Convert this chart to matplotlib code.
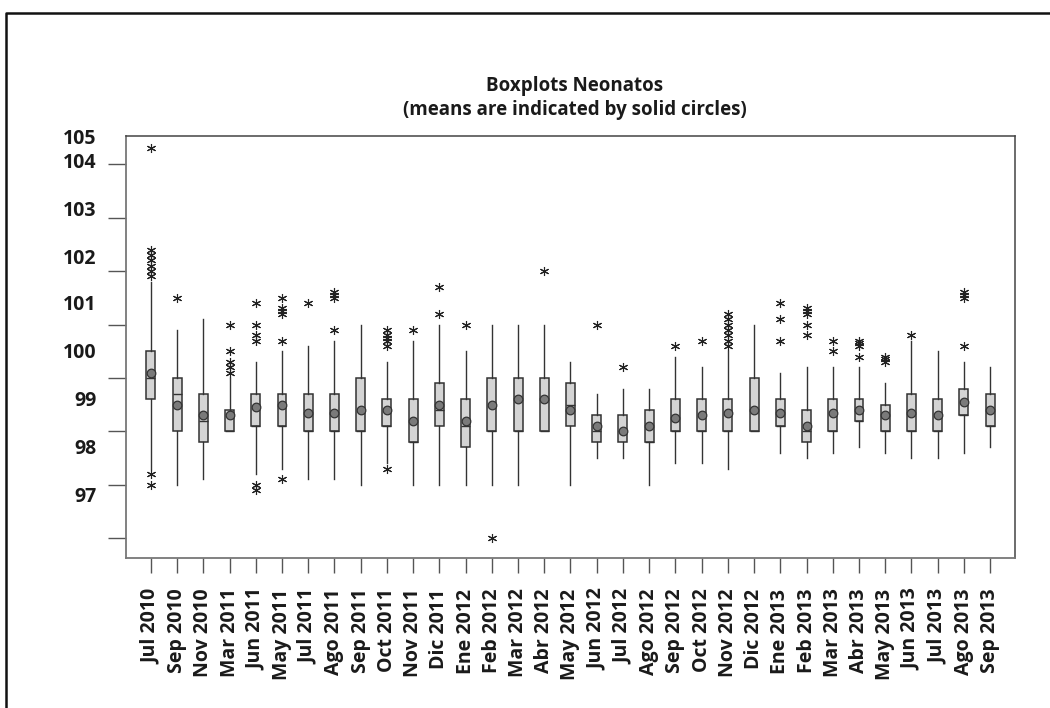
import matplotlib
matplotlib.use("Agg")
import matplotlib.pyplot as plt
from matplotlib.lines import Line2D

# ---------------- data ----------------
MONTHS = ["Jul 2010", "Sep 2010", "Nov 2010", "Mar 2011", "Jun 2011", "May 2011",
          "Jul 2011", "Ago 2011", "Sep 2011", "Oct 2011", "Nov 2011", "Dic 2011",
          "Ene 2012", "Feb 2012", "Mar 2012", "Abr 2012", "May 2012", "Jun 2012",
          "Jul 2012", "Ago 2012", "Sep 2012", "Oct 2012", "Nov 2012", "Dic 2012",
          "Ene 2013", "Feb 2013", "Mar 2013", "Abr 2013", "May 2013", "Jun 2013",
          "Jul 2013", "Ago 2013", "Sep 2013"]

WHIS_LO = [97.3, 97.0, 97.1, 98.0, 97.2, 97.3, 97.1, 97.1, 97.0, 97.4, 97.0, 97.0,
           97.0, 97.0, 97.0, 98.0, 97.0, 97.5, 97.5, 97.0, 97.4, 97.4, 97.3, 98.0,
           97.6, 97.5, 97.6, 97.7, 97.6, 97.5, 97.5, 97.6, 97.7]
Q1 = [98.6, 98.0, 97.8, 98.0, 98.1, 98.1, 98.0, 98.0, 98.0, 98.1, 97.8, 98.1,
      97.7, 98.0, 98.0, 98.0, 98.1, 97.8, 97.8, 97.8, 98.0, 98.0, 98.0, 98.0,
      98.1, 97.8, 98.0, 98.2, 98.0, 98.0, 98.0, 98.3, 98.1]
MEDIAN = [99.0, 98.7, 98.2, 98.0, 98.1, 98.1, 98.0, 98.0, 98.0, 98.1, 97.8, 98.4,
          98.1, 98.0, 98.0, 98.0, 98.5, 98.0, 98.0, 97.8, 98.0, 98.0, 98.0, 98.0,
          98.1, 98.0, 98.0, 98.2, 98.0, 98.0, 98.0, 98.3, 98.1]
Q3 = [99.5, 99.0, 98.7, 98.4, 98.7, 98.7, 98.7, 98.7, 99.0, 98.6, 98.6, 98.9,
      98.6, 99.0, 99.0, 99.0, 98.9, 98.3, 98.3, 98.4, 98.6, 98.6, 98.6, 99.0,
      98.6, 98.4, 98.6, 98.6, 98.5, 98.7, 98.6, 98.8, 98.7]
WHIS_HI = [100.8, 99.9, 100.1, 99.0, 99.3, 99.5, 99.6, 99.7, 100.0, 99.3, 99.7, 100.0,
           99.5, 100.0, 100.0, 100.0, 99.3, 98.7, 98.8, 98.8, 99.4, 99.2, 99.5, 100.0,
           99.1, 99.2, 99.2, 99.2, 98.9, 99.7, 99.5, 99.3, 99.2]
MEAN = [99.1, 98.5, 98.3, 98.3, 98.45, 98.5, 98.35, 98.35, 98.4, 98.4, 98.2, 98.5,
        98.2, 98.5, 98.6, 98.6, 98.4, 98.1, 98.0, 98.1, 98.25, 98.3, 98.35, 98.4,
        98.35, 98.1, 98.35, 98.4, 98.3, 98.35, 98.3, 98.55, 98.4]
OUTLIERS = [
    [97.0, 97.2, 100.9, 101.0, 101.1, 101.2, 101.3, 101.4, 103.3],
    [100.5],
    [],
    [99.1, 99.2, 99.3, 99.5, 100.0],
    [96.9, 97.0, 99.7, 99.8, 100.0, 100.4],
    [97.1, 99.7, 100.2, 100.25, 100.3, 100.5],
    [100.4],
    [99.9, 100.5, 100.55, 100.6],
    [],
    [97.3, 99.6, 99.7, 99.75, 99.8, 99.9],
    [99.9],
    [100.2, 100.7],
    [100.0],
    [96.0],
    [],
    [101.0],
    [],
    [100.0],
    [99.2],
    [],
    [99.6],
    [99.7],
    [99.6, 99.7, 99.8, 99.9, 100.0, 100.1, 100.2],
    [],
    [99.7, 100.1, 100.4],
    [99.8, 100.0, 100.2, 100.25, 100.3],
    [99.5, 99.7],
    [99.4, 99.6, 99.65, 99.7],
    [99.3, 99.35, 99.4],
    [99.8],
    [],
    [99.6, 100.5, 100.55, 100.6],
    [],
]

Y_TICKS = [96, 97, 98, 99, 100, 101, 102, 103]
Y_LABELS = ["105", "104", "103", "102", "101", "100", "99", "98", "97"]

TITLE = "Boxplots Neonatos\n(means are indicated by solid circles)"

# ---------------- layout constants ----------------
W, H, DPI = 1050, 708, 100
AX_L, AX_R, AX_T, AX_B = 126, 1015, 136, 558      # pixel edges of the plot area
Y_AT_97, PX_PER_UNIT = 484.7, 53.4                 # vertical scale of the plot
LABEL_PX = [136, 160, 208, 256, 303, 350, 398, 446, 494]  # where the y labels sit


def px_to_val(py):
    return 97 + (Y_AT_97 - py) / PX_PER_UNIT


FONT = ["Open Sans", "DejaVu Sans"]
plt.rcParams["font.family"] = FONT

fig = plt.figure(figsize=(W / DPI, H / DPI), dpi=DPI)
ax = fig.add_axes([AX_L / W, 1 - AX_B / H, (AX_R - AX_L) / W, (AX_B - AX_T) / H])

stats = []
for i in range(len(MONTHS)):
    stats.append(dict(med=MEDIAN[i], q1=Q1[i], q3=Q3[i], whislo=WHIS_LO[i],
                      whishi=WHIS_HI[i], mean=MEAN[i], fliers=OUTLIERS[i],
                      label=MONTHS[i]))

positions = list(range(1, len(MONTHS) + 1))
ax.bxp(stats, positions=positions, widths=0.34, patch_artist=True,
       showmeans=True, showcaps=False, showfliers=True,
       boxprops=dict(facecolor="#d4d4d4", edgecolor="#333333", linewidth=1.1),
       medianprops=dict(color="#333333", linewidth=1.0),
       whiskerprops=dict(color="#333333", linewidth=1.0),
       meanprops=dict(marker="o", markerfacecolor="#7a7a7a",
                      markeredgecolor="#333333", markersize=6.2, markeredgewidth=0.9),
       flierprops=dict(marker=(6, 2, 0), markersize=6.5, markeredgewidth=0.8,
                       markeredgecolor="#222222", markerfacecolor="none",
                       linestyle="none"))

ax.set_xlim(0.05, len(MONTHS) + 0.95)
ax.set_ylim(px_to_val(AX_B), px_to_val(AX_T))

# x axis
ax.set_xticks(positions)
ax.set_xticklabels(MONTHS, rotation=90, fontsize=14, fontweight="bold",
                   color="#1a1a1a")
ax.tick_params(axis="x", length=11, width=1.0, color="#555555", pad=11)

# y axis: tick marks at the scale values, labels where the reference places them
ax.set_yticks(Y_TICKS)
ax.set_yticklabels([])
ax.tick_params(axis="y", which="major", length=13, width=1.0, color="#555555")
ax.set_yticks([px_to_val(p) for p in LABEL_PX], minor=True)
ax.set_yticklabels(Y_LABELS, minor=True, fontsize=14, fontweight="bold",
                   color="#1a1a1a")
ax.tick_params(axis="y", which="minor", length=0, pad=21)

for side in ["left", "bottom"]:
    ax.spines[side].set_color("#777777")
    ax.spines[side].set_linewidth(1.3)
for side in ["top", "right"]:
    ax.spines[side].set_color("#444444")
    ax.spines[side].set_linewidth(1.1)

fig.text((AX_L + AX_R) / 2 / W + 0.004, 1 - 98 / H, TITLE, ha="center", va="center",
         fontsize=13.5, fontweight="bold", linespacing=1.25, color="#1a1a1a")

# outer frame (left and top edges visible)
fig.add_artist(Line2D([6 / W, 6 / W, 1.0], [0.0, 1 - 13 / H, 1 - 13 / H],
                      transform=fig.transFigure, color="#111111", linewidth=1.8))

fig.savefig("out.png", dpi=DPI)
